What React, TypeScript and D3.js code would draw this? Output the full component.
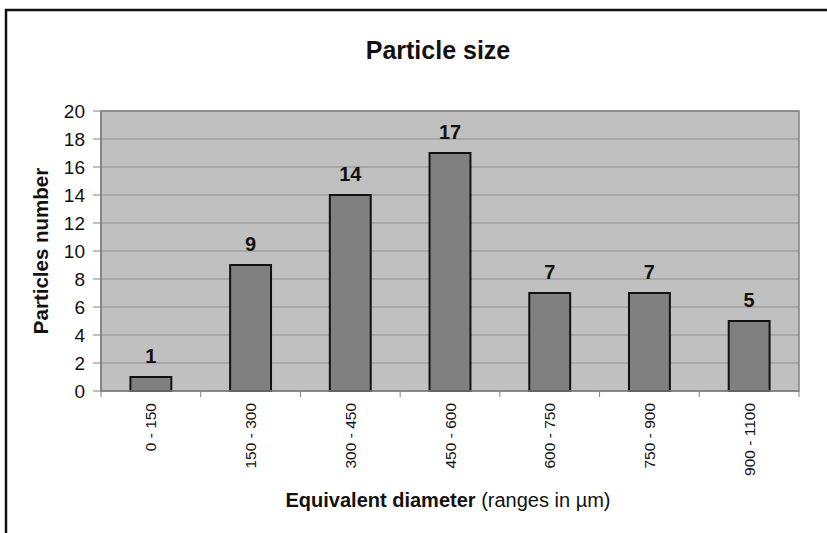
import React from "react";
import * as d3 from "d3";

const categories = ["0 - 150", "150 - 300", "300 - 450", "450 - 600", "600 - 750", "750 - 900", "900 - 1100"];
const counts = [1, 9, 14, 17, 7, 7, 5];
const yTicks = [0, 2, 4, 6, 8, 10, 12, 14, 16, 18, 20];

const W = 827;
const H = 533;
const plot = { left: 101, right: 799, top: 111, bottom: 391 };
const FONT = "'Liberation Sans', Arial, sans-serif";

export default function App() {
  const x = d3.scaleBand<string>().domain(categories).range([plot.left, plot.right]).padding(0);
  const y = d3.scaleLinear().domain([0, 20]).range([plot.bottom, plot.top]);
  const bw = x.bandwidth() * 0.41;
  const boundaries = d3.range(categories.length + 1).map((i) => plot.left + i * x.step());

  return (
    <svg width={W} height={H} style={{ position: "absolute", left: 0, top: 0, background: "#fff" }} fontFamily={FONT}>
      <rect x={0} y={0} width={W} height={H} fill="#fff" />
      {/* outer frame */}
      <rect x={6} y={10} width={W + 20} height={H + 20} fill="none" stroke="#111" strokeWidth={2.5} />
      {/* title */}
      <text x={438} y={59} textAnchor="middle" fontSize={25} fontWeight="bold" fill="#111">Particle size</text>
      {/* plot background */}
      <rect x={plot.left} y={plot.top} width={plot.right - plot.left} height={plot.bottom - plot.top} fill="#c0c0c0" />
      {/* gridlines */}
      {yTicks.filter((t) => t > 0).map((t) => (
        <line key={t} x1={plot.left} x2={plot.right} y1={y(t)} y2={y(t)} stroke="#8f8f8f" strokeWidth={1} />
      ))}
      <rect x={plot.left} y={plot.top} width={plot.right - plot.left} height={plot.bottom - plot.top} fill="none" stroke="#808080" strokeWidth={1.5} />
      {/* y axis */}
      <line x1={plot.left} x2={plot.left} y1={plot.top} y2={plot.bottom} stroke="#808080" strokeWidth={1.5} />
      {yTicks.map((t) => (
        <g key={t}>
          <line x1={plot.left - 8} x2={plot.left} y1={y(t)} y2={y(t)} stroke="#808080" strokeWidth={1} />
          <text x={85} y={y(t)} dy="0.36em" textAnchor="end" fontSize={19} fill="#111">{t}</text>
        </g>
      ))}
      <text transform={`translate(48,251) rotate(-90)`} textAnchor="middle" fontSize={20.5} fontWeight="bold" fill="#111">Particles number</text>
      {/* bars */}
      {categories.map((c, i) => {
        const cx = (x(c) as number) + x.bandwidth() / 2;
        return (
          <g key={c}>
            <rect x={cx - bw / 2} y={y(counts[i])} width={bw} height={plot.bottom - y(counts[i])} fill="#808080" stroke="#111" strokeWidth={2} />
            <text x={cx} y={y(counts[i]) - 14} textAnchor="middle" fontSize={20} fontWeight="bold" fill="#111">{counts[i]}</text>
          </g>
        );
      })}
      {/* x axis */}
      <line x1={plot.left} x2={plot.right} y1={plot.bottom} y2={plot.bottom} stroke="#808080" strokeWidth={1.5} />
      {boundaries.map((bx, i) => (
        <line key={i} x1={bx} x2={bx} y1={plot.bottom} y2={plot.bottom + 6} stroke="#808080" strokeWidth={1} />
      ))}
      {categories.map((c) => {
        const cx = (x(c) as number) + x.bandwidth() / 2;
        return (
          <text key={c} transform={`translate(${cx + 5.5},403) rotate(-90)`} textAnchor="end" fontSize={15.5} fill="#111">{c}</text>
        );
      })}
      <text x={448} y={507} textAnchor="middle" fontSize={20} fill="#111">
        <tspan fontWeight="bold">Equivalent diameter</tspan>
        <tspan> (ranges in µm)</tspan>
      </text>
    </svg>
  );
}
